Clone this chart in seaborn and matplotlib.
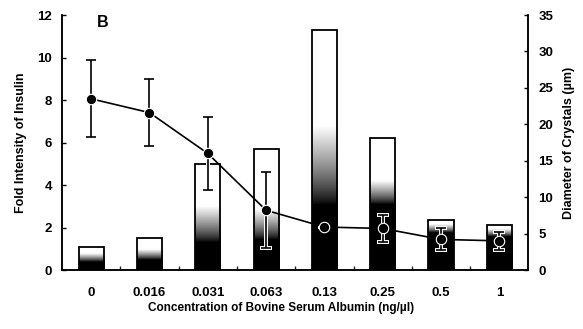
import numpy as np
import matplotlib
matplotlib.use("Agg")
import matplotlib.pyplot as plt
import seaborn as sns

# BSA concentration (ng/µl)
concentrations = ["0", "0.016", "0.031", "0.063", "0.13", "0.25", "0.5", "1"]
# Fold intensity of insulin (bars, left axis)
fold_intensity = [1.1, 1.5, 5.0, 5.7, 11.3, 6.2, 2.35, 2.1]
# Crystal diameter (line, right axis) with error
diameter = [23.5, 21.6, 16.0, 8.2, 5.9, 5.7, 4.2, 4.0]
diameter_err = [5.3, 4.6, 5.0, 5.2, 0.0, 1.8, 1.5, 1.2]

# Dark-to-light shading band inside each bar (fractions of bar height)
shade_lo = [0.35, 0.33, 0.26, 0.25, 0.27, 0.50, 0.75, 0.75]
shade_hi = [0.70, 0.65, 0.60, 0.50, 0.60, 0.68, 0.92, 0.92]

sns.set_theme(style="white")
plt.rcParams["font.family"] = ["Liberation Sans", "DejaVu Sans"]
plt.rcParams["font.weight"] = "bold"

fig = plt.figure(figsize=(5.83, 3.29), dpi=100)
ax = fig.add_axes([0.1063, 0.1793, 0.8002, 0.7751])

sns.barplot(x=concentrations, y=fold_intensity, color="white", edgecolor="black",
            linewidth=1.3, width=0.43, ax=ax, zorder=2)

# gradient fill for each bar: solid black at the base fading to white
for patch, lo, hi in zip(ax.patches, shade_lo, shade_hi):
    x0, w, h = patch.get_x(), patch.get_width(), patch.get_height()
    t = np.linspace(0, 1, 300)
    v = np.clip((t - lo) / (hi - lo), 0, 1) ** 0.8
    ax.imshow(v[:, None], extent=[x0, x0 + w, 0, h], origin="lower", cmap="gray",
              vmin=0, vmax=1, aspect="auto", zorder=1, interpolation="bilinear")
    patch.set_facecolor("none")
    patch.set_zorder(3)

ax.set_xlim(-0.5, len(concentrations) - 0.5)
ax.set_ylim(0, 12)
ax.set_yticks(np.arange(0, 13, 2))
ax.set_xticks(np.arange(len(concentrations)))
ax.set_xticklabels(concentrations)
ax.set_xticks(np.arange(len(concentrations) - 1) + 0.5, minor=True)

ax2 = ax.twinx()
xpos = np.arange(len(concentrations))
# white halo under the error bars so they stay visible over dark fills
ax2.errorbar(xpos, diameter, yerr=diameter_err, fmt="none", ecolor="white",
             elinewidth=2.8, capsize=4.3, capthick=2.8, zorder=4)
ax2.errorbar(xpos, diameter, yerr=diameter_err, fmt="none", ecolor="black",
             elinewidth=1.2, capsize=3.5, capthick=1.2, zorder=4.5)
sns.lineplot(x=xpos, y=diameter, ax=ax2, color="black", linewidth=1.2,
             marker="o", markersize=7.5, markerfacecolor="black",
             markeredgecolor="white", markeredgewidth=0.8, zorder=5)
ax2.set_ylim(0, 35)
ax2.set_yticks(np.arange(0, 36, 5))
ax2.set_xlim(-0.5, len(concentrations) - 0.5)

for a in (ax, ax2):
    a.spines["top"].set_visible(False)
    for s in ("left", "right", "bottom"):
        a.spines[s].set_color("black")
        a.spines[s].set_linewidth(1.1)
    a.grid(False)

ax.tick_params(axis="y", direction="in", length=3, width=1, pad=7, labelsize=9.5,
               colors="black", left=True, right=False)
ax.tick_params(axis="x", which="major", length=0, pad=12, labelsize=9.5, colors="black")
ax.tick_params(axis="x", which="minor", direction="in", length=3, width=1, bottom=True)
ax2.tick_params(axis="y", direction="in", length=3, width=1, pad=7, labelsize=9.5,
                colors="black", right=True, left=False)

for lbl in ax.get_xticklabels() + ax.get_yticklabels() + ax2.get_yticklabels():
    lbl.set_fontweight("bold")

ax.set_ylabel("Fold Intensity of Insulin", fontsize=9, fontweight="bold", color="black")
ax.yaxis.set_label_coords(-0.075, 0.5)
ax2.set_ylabel("Diameter of Crystals (µm)", fontsize=9, fontweight="bold", color="black")
ax2.yaxis.set_label_coords(1.074, 0.5)
ax.set_xlabel("Concentration of Bovine Serum Albumin (ng/µl)", fontsize=8.5,
              fontweight="bold", color="black")
ax.xaxis.set_label_coords(0.47, -0.125)

ax.text(0.088, 1.0, "B", transform=ax.transAxes, fontsize=11.5, fontweight="bold",
        va="top", ha="center", color="black")

fig.savefig("out.png", dpi=100, facecolor="white")
